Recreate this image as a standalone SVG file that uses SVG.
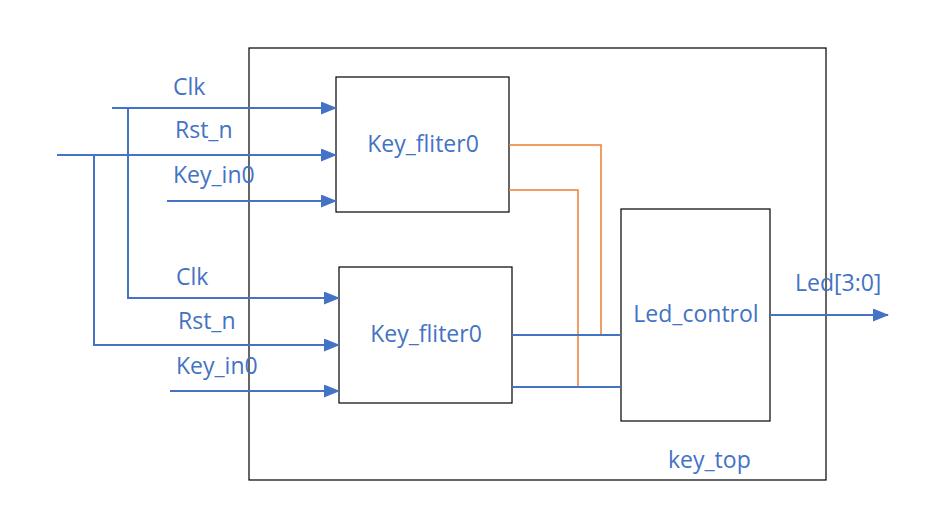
<svg xmlns="http://www.w3.org/2000/svg" width="951" height="527" viewBox="0 0 951 527">
<style>
.box{fill:none;stroke:#000;stroke-width:1.2}
.w{fill:none;stroke:#4472C4;stroke-width:2}
.o{fill:none;stroke:#ED7D31;stroke-width:1.5}
.t{font-family:"Open Sans","Liberation Sans",sans-serif;font-size:23px;fill:#4472C4}
</style>
<defs>
<marker id="ar" markerWidth="16" markerHeight="13" refX="15" refY="6.5" orient="auto" markerUnits="userSpaceOnUse">
<path d="M0,0 L16,6.5 L0,13 Z" fill="#4472C4"/>
</marker>
</defs>
<rect width="951" height="527" fill="#fff"/>
<g id="key_top">
<rect class="box" x="249" y="48" width="577" height="432"/>
<text class="t" x="668" y="468">key_top</text>
</g>
<g id="key_fliter0_a">
<rect class="box" x="336" y="77" width="173" height="135"/>
<text class="t" x="423" y="152" text-anchor="middle">Key_fliter0</text>
</g>
<g id="key_fliter0_b">
<rect class="box" x="339" y="267" width="173" height="136"/>
<text class="t" x="426" y="342" text-anchor="middle">Key_fliter0</text>
</g>
<g id="led_control">
<rect class="box" x="621" y="209" width="149" height="212"/>
<text class="t" x="696" y="322" text-anchor="middle">Led_control</text>
</g>
<g id="connectors">
<path class="w" d="M112,108 H336" marker-end="url(#ar)"/>
<path class="w" d="M57,155 H336" marker-end="url(#ar)"/>
<path class="w" d="M167,201 H336" marker-end="url(#ar)"/>
<path class="w" d="M128,108 V298 H339" marker-end="url(#ar)"/>
<path class="w" d="M94,155 V345 H339" marker-end="url(#ar)"/>
<path class="w" d="M170,391 H339" marker-end="url(#ar)"/>
<path class="o" d="M509,145 H601 V335"/>
<path class="o" d="M509,190 H578 V387"/>
<path class="w" d="M512,335 H621"/>
<path class="w" d="M512,387 H621"/>
<path class="w" d="M770,315 H888" marker-end="url(#ar)"/>
</g>
<g id="labels">
<text class="t" x="173" y="95">Clk</text>
<text class="t" x="175" y="138">Rst_n</text>
<text class="t" x="173" y="183">Key_in0</text>
<text class="t" x="176" y="285">Clk</text>
<text class="t" x="178" y="329">Rst_n</text>
<text class="t" x="176" y="374">Key_in0</text>
<text class="t" x="795" y="291">Led[3:0]</text>
</g>
</svg>
